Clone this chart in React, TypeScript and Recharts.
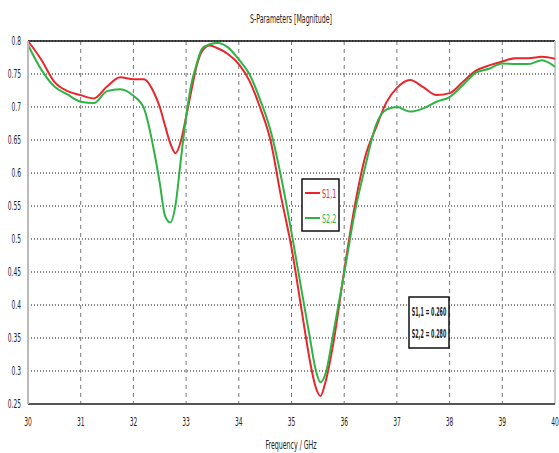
import React from 'react';
import { LineChart, Line, XAxis, YAxis, CartesianGrid, ReferenceLine } from 'recharts';

const freq = [
  30, 30.25, 30.5, 30.75, 31, 31.25, 31.5, 31.75, 32, 32.2, 32.4, 32.5, 32.6, 32.7, 32.8, 32.9,
  33, 33.1, 33.2, 33.3, 33.45, 33.6, 33.8, 34, 34.2, 34.4, 34.6, 34.8, 35, 35.2, 35.35, 35.45,
  35.55, 35.65, 35.8, 36, 36.2, 36.4, 36.6, 36.8, 37, 37.25, 37.5, 37.75, 38, 38.25, 38.5, 38.75,
  39, 39.25, 39.5, 39.75, 40,
];

const s11 = [
  0.8, 0.772, 0.738, 0.724, 0.718, 0.713, 0.731, 0.745, 0.742, 0.742, 0.72, 0.7, 0.672, 0.645, 0.63, 0.648,
  0.685, 0.725, 0.762, 0.784, 0.793, 0.789, 0.78, 0.765, 0.74, 0.7, 0.65, 0.565, 0.487, 0.388, 0.315, 0.278,
  0.262, 0.285, 0.345, 0.452, 0.55, 0.625, 0.668, 0.707, 0.729, 0.741, 0.73, 0.718, 0.721, 0.738, 0.755, 0.763,
  0.769, 0.774, 0.774, 0.776, 0.773,
];

const s22 = [
  0.794, 0.757, 0.731, 0.719, 0.708, 0.706, 0.724, 0.727, 0.717, 0.698, 0.63, 0.585, 0.535, 0.525, 0.552, 0.62,
  0.685, 0.735, 0.765, 0.788, 0.795, 0.797, 0.79, 0.772, 0.75, 0.712, 0.665, 0.595, 0.51, 0.418, 0.35, 0.305,
  0.283, 0.297, 0.36, 0.448, 0.54, 0.61, 0.672, 0.696, 0.7, 0.693, 0.698, 0.708, 0.715, 0.733, 0.752, 0.758,
  0.766, 0.765, 0.765, 0.771, 0.761,
];

const xTicks = [30, 31, 32, 33, 34, 35, 36, 37, 38, 39, 40];
const yTicks = [0.25, 0.3, 0.35, 0.4, 0.45, 0.5, 0.55, 0.6, 0.65, 0.7, 0.75, 0.8];
const seriesNames = ['S1,1', 'S2,2'];
const markerLabels = ['S1,1 = 0.260', 'S2,2 = 0.280'];

const FONT = "'DejaVu Sans Condensed', 'Liberation Sans Narrow', sans-serif";
const RED = '#e8262c';
const GREEN = '#2fb344';
const COLORS = [RED, GREEN];

const data = freq.map((f, i) => ({ f, s11: s11[i], s22: s22[i] }));

// squeezed text, the original uses a very narrow font
function Narrow({ x, y, children, anchor = 'middle', size = 11, bold = false, fill = '#222', squeeze = 0.62 }: any) {
  return (
    <g transform={`translate(${x},${y}) scale(${squeeze},1)`}>
      <text textAnchor={anchor} fontSize={size} fontFamily={FONT} fontWeight={bold ? 'bold' : 'normal'} fill={fill} dominantBaseline="central">
        {children}
      </text>
    </g>
  );
}

function XTick({ x, y, payload }: any) {
  return <Narrow x={x} y={y + 10} size={12} squeeze={0.55}>{payload.value}</Narrow>;
}

function YTick({ x, y, payload }: any) {
  return <Narrow x={x + 1} y={y} anchor="end" size={12} squeeze={0.55}>{payload.value}</Narrow>;
}

export default function App() {
  return (
    <div style={{ position: 'absolute', left: 0, top: 0, width: 559, height: 453, background: '#fff' }}>
      <LineChart width={559} height={453} data={data} margin={{ top: 41, right: 4, left: 0, bottom: 0 }}>
        <CartesianGrid vertical={false} stroke="#111" strokeDasharray="1 2" />
        <CartesianGrid horizontal={false} stroke="#777" strokeDasharray="4 4" />
        <XAxis
          dataKey="f"
          type="number"
          domain={[30, 40]}
          ticks={xTicks}
          height={49}
          tickLine={false}
          axisLine={{ stroke: '#555', strokeWidth: 2 }}
          tick={<XTick />}
          interval={0}
        />
        <YAxis
          type="number"
          domain={[0.25, 0.8]}
          ticks={yTicks}
          width={28}
          tickLine={false}
          axisLine={{ stroke: '#bbb', strokeWidth: 2 }}
          tick={<YTick />}
          interval={0}
        />
        <ReferenceLine y={0.8} stroke="#111" strokeWidth={1.5} />
        <ReferenceLine x={40} stroke="#ccc" strokeWidth={2} />
        <Line type="monotone" dataKey="s11" name="S1,1" stroke={RED} strokeWidth={2} dot={false} isAnimationActive={false} />
        <Line type="monotone" dataKey="s22" name="S2,2" stroke={GREEN} strokeWidth={2} dot={false} isAnimationActive={false} />
      </LineChart>
      <svg width={559} height={453} style={{ position: 'absolute', left: 0, top: 0, pointerEvents: 'none' }}>
        <Narrow x={291} y={19} size={12} squeeze={0.58}>S-Parameters [Magnitude]</Narrow>
        <Narrow x={291} y={445} size={12} squeeze={0.58}>Frequency / GHz</Narrow>
        {/* legend */}
        <rect x={302} y={179} width={37} height={52} fill="#fff" stroke="#111" strokeWidth={1.5} />
        {seriesNames.map((n, i) => (
          <g key={n}>
            <line x1={305} x2={320} y1={193 + i * 25} y2={193 + i * 25} stroke={COLORS[i]} strokeWidth={2} />
            <Narrow x={322} y={193 + i * 25} anchor="start" fill={COLORS[i]} size={13} squeeze={0.55}>{n}</Narrow>
          </g>
        ))}
        {/* marker readout */}
        <rect x={409} y={297} width={40} height={51} fill="#fff" stroke="#111" strokeWidth={1.5} />
        {markerLabels.map((t, i) => (
          <Narrow key={t} x={429} y={311 + i * 22} size={13} bold squeeze={0.41}>{t}</Narrow>
        ))}
      </svg>
    </div>
  );
}
